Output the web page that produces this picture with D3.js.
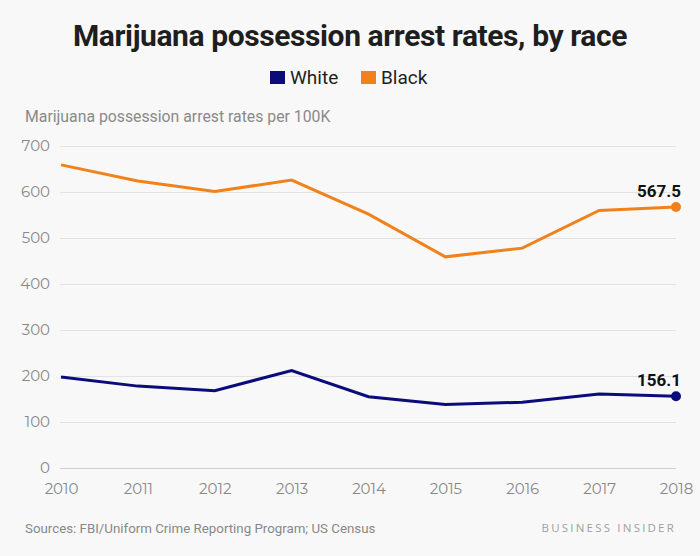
<!DOCTYPE html>
<html><head><meta charset="utf-8">
<script src="https://cdn.jsdelivr.net/npm/d3@7"></script>
<style>
html,body{margin:0;padding:0;background:#f8f8f8;}
svg{display:block;}
</style></head>
<body>
<svg id="chart" width="700" height="556"></svg>
<script>
const years = [2010, 2011, 2012, 2013, 2014, 2015, 2016, 2017, 2018];
const white = [198, 178, 168, 212, 155, 138, 143, 161, 156.1];
const black = [659, 624, 601, 626, 552, 459, 478, 560, 567.5];
const yTicks = [0, 100, 200, 300, 400, 500, 600, 700];
const seriesNames = ["White", "Black"];
const seriesColors = ["#0b0b7a", "#f0821c"];

const svg = d3.select("#chart");
svg.append("rect").attr("width",700).attr("height",556).attr("fill","#f8f8f8");

const x = d3.scaleLinear().domain([2010, 2018]).range([61, 676]);
const y = d3.scaleLinear().domain([0, 700]).range([468, 146]);

// Title
svg.append("text").attr("x", 350).attr("y", 46).attr("text-anchor","middle")
  .attr("font-family","Roboto, sans-serif").attr("font-weight","bold").attr("font-size",30)
  .attr("fill","#1e1e1e").attr("letter-spacing","-0.4").text("Marijuana possession arrest rates, by race");

// Legend
const legend = [{name:seriesNames[0], color:seriesColors[0], x:270},{name:seriesNames[1], color:seriesColors[1], x:361}];
legend.forEach(l=>{
  svg.append("rect").attr("x",l.x).attr("y",71).attr("width",15).attr("height",13).attr("fill",l.color);
  svg.append("text").attr("x",l.x+20).attr("y",84).attr("font-family","Roboto, sans-serif")
    .attr("font-size",19).attr("fill","#1e1e1e").text(l.name);
});

// Y-axis title
svg.append("text").attr("x",25).attr("y",122).attr("font-family","Roboto, sans-serif")
  .attr("font-size",15.8).attr("fill","#8a8a8a").text("Marijuana possession arrest rates per 100K");

// Gridlines
const yAxis = d3.axisLeft(y).tickValues(yTicks).tickSize(-(676-60)).tickFormat(d3.format("d"));
const gy = svg.append("g").attr("transform","translate(60,0)").call(yAxis);
gy.select(".domain").remove();
gy.selectAll(".tick line").attr("stroke","#e3e3e3").attr("stroke-width",1);
gy.selectAll(".tick line").filter(d=>d===0).attr("stroke","#cfcfcf");
gy.selectAll(".tick text").attr("x",-10).attr("font-family","Montserrat, 'Open Sans', sans-serif")
  .attr("font-size",15).attr("fill","#888");

// X axis
const xAxis = d3.axisBottom(x).tickValues(years).tickSize(0).tickFormat(d3.format("d"));
const gx = svg.append("g").attr("transform","translate(0,477)").call(xAxis);
gx.select(".domain").remove();
gx.selectAll(".tick text").attr("font-family","Montserrat, 'Open Sans', sans-serif")
  .attr("font-size",15).attr("fill","#888").attr("dy","0.9em");

// Lines
const line = d3.line().x((d,i)=>x(years[i])).y(d=>y(d));
[white, black].forEach((s,k)=>{
  svg.append("path").datum(s).attr("d",line).attr("fill","none")
    .attr("stroke",seriesColors[k]).attr("stroke-width",3).attr("stroke-linejoin","miter");
  const last = s[s.length-1];
  svg.append("circle").attr("cx",x(years[years.length-1])).attr("cy",y(last)).attr("r",5)
    .attr("fill",seriesColors[k]);
  svg.append("text").attr("x",x(years[years.length-1])+5).attr("y",y(last)-10)
    .attr("text-anchor","end").attr("font-family","Roboto, sans-serif").attr("font-weight","bold")
    .attr("font-size",17).attr("fill","#111").text(d3.format(".1f")(last));
});

// Footer
svg.append("text").attr("x",25).attr("y",533).attr("font-family","Roboto, sans-serif")
  .attr("font-size",13.3).attr("fill","#888").text("Sources: FBI/Uniform Crime Reporting Program; US Census");
svg.append("text").attr("x",676).attr("y",532).attr("text-anchor","end").attr("font-family","'Open Sans', sans-serif")
  .attr("font-size",11.5).attr("letter-spacing","2.2").attr("fill","#a0a0a0").text("BUSINESS INSIDER");
</script>
</body></html>
